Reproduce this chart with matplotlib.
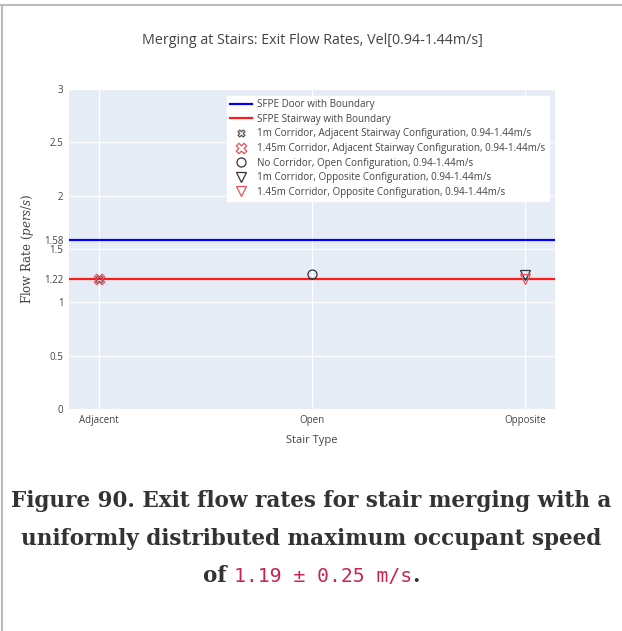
import numpy as np
import matplotlib
matplotlib.use('Agg')
import matplotlib.pyplot as plt
from matplotlib.path import Path
from matplotlib.lines import Line2D

# data
stair_types = ['Adjacent', 'Open', 'Opposite']
sfpe_door = 1.58
sfpe_stair = 1.22
series_names = ['1m Corridor, Adjacent Stairway Configuration, 0.94-1.44m/s',
                '1.45m Corridor, Adjacent Stairway Configuration, 0.94-1.44m/s',
                'No Corridor, Open Configuration, 0.94-1.44m/s',
                '1m Corridor, Opposite Configuration, 0.94-1.44m/s',
                '1.45m Corridor, Opposite Configuration, 0.94-1.44m/s']
series_x = ['Adjacent', 'Adjacent', 'Open', 'Opposite', 'Opposite']
series_y = [1.22, 1.215, 1.27, 1.255, 1.215]
y_ticks = [0, 0.5, 1, 1.5, 2, 2.5, 3, 1.58, 1.22]

# plotly-style "x-open" marker outline
rx = 1.0
xv = [(0, rx), (rx, 2*rx), (2*rx, rx), (rx, 0), (2*rx, -rx), (rx, -2*rx),
      (0, -rx), (-rx, -2*rx), (-2*rx, -rx), (-rx, 0), (-2*rx, rx), (-rx, 2*rx), (0, rx)]
x_open = Path(xv, [Path.MOVETO] + [Path.LINETO]*11 + [Path.CLOSEPOLY])

styles = [dict(marker=x_open, color='#555555', ms=5),
          dict(marker=x_open, color='#e8505a', ms=7.5),
          dict(marker='o', color='#333333', ms=6.5),
          dict(marker='v', color='#333333', ms=6.5),
          dict(marker='v', color='#e8505a', ms=7)]

plt.rcParams['font.family'] = ['Open Sans', 'DejaVu Sans']
plt.rcParams['mathtext.fontset'] = 'dejavuserif'
txt = '#444444'

fig = plt.figure(figsize=(6.22, 6.31), dpi=100)
ax = fig.add_axes([69/622, 1-409/631, 486/622, 320/631])
ax.set_facecolor('#e5ecf6')
for s in ax.spines.values():
    s.set_visible(False)

xpos = {c: i for i, c in enumerate(stair_types)}
ax.axhline(sfpe_door, color='#0000ff', lw=1.6, label='SFPE Door with Boundary', zorder=2)
ax.axhline(sfpe_stair, color='#ff1a1a', lw=1.6, label='SFPE Stairway with Boundary', zorder=2)
for name, cx, cy, st in zip(series_names, series_x, series_y, styles):
    ax.plot([xpos[cx]], [cy], linestyle='none', marker=st['marker'], ms=st['ms'],
            markerfacecolor='none', markeredgecolor=st['color'], mew=0.9,
            label=name, zorder=3)

ax.set_xlim(-0.14, 2.14)
ax.set_ylim(0, 3)
ax.set_xticks(range(len(stair_types)))
ax.set_xticklabels(stair_types)
ax.set_yticks(y_ticks)
ax.set_yticklabels([('%g' % v) for v in y_ticks])
ax.grid(True, color='white', lw=0.9, zorder=0)
ax.set_axisbelow(True)
ax.tick_params(length=0, labelsize=7, labelcolor=txt, pad=4)

ax.set_xlabel('Stair Type', fontsize=8, color=txt, labelpad=7)
ax.set_ylabel(r'Flow Rate $(pers/s)$', fontsize=8.5, color=txt, family='DejaVu Serif',
              labelpad=6)

fig.text(312/622, 1-40/631, 'Merging at Stairs: Exit Flow Rates, Vel[0.94-1.44m/s]',
         ha='center', va='center', fontsize=10.3, color='#444444')

leg = ax.legend(loc='upper left', bbox_to_anchor=(222/622, 1-91/631),
                bbox_transform=fig.transFigure, fontsize=7.1, frameon=True,
                fancybox=False, framealpha=1, edgecolor='white',
                labelspacing=0.36, handlelength=2.2, handletextpad=0.5,
                borderpad=0.35)
for t in leg.get_texts():
    t.set_color(txt)

# page frame
fig.add_artist(Line2D([0, 1], [1-5/631, 1-5/631], color='#bbbbbb', lw=1.5,
                      transform=fig.transFigure))
fig.add_artist(Line2D([1.5/622, 1.5/622], [0, 1-5/631], color='#bbbbbb', lw=1.5,
                      transform=fig.transFigure))

# caption
fs = 15.5
cap_kw = dict(family='DejaVu Serif', weight='bold', fontsize=fs, color='#333333',
              ha='center', va='baseline')
fig.text(311/622, 1-507/631, 'Figure 90. Exit flow rates for stair merging with a', **cap_kw)
fig.text(311/622, 1-545/631, 'uniformly distributed maximum occupant speed', **cap_kw)

renderer = fig.canvas.get_renderer()
parts = [('of ', dict(family='DejaVu Serif', weight='bold', color='#333333', fontsize=fs)),
         ('1.19 \u00b1 0.25 m/s', dict(family='DejaVu Sans Mono', color='#c7254e', fontsize=fs - 1.3)),
         ('.', dict(family='DejaVu Serif', weight='bold', color='#333333', fontsize=fs))]
objs = []
for s, kw in parts:
    objs.append(fig.text(0, 1-582/631, s, ha='left', va='baseline', **kw))
widths = [o.get_window_extent(renderer).width / fig.bbox.width for o in objs]
xstart = 311/622 - sum(widths) / 2
for o, w in zip(objs, widths):
    o.set_x(xstart)
    xstart += w

fig.savefig('out.png', dpi=100)
